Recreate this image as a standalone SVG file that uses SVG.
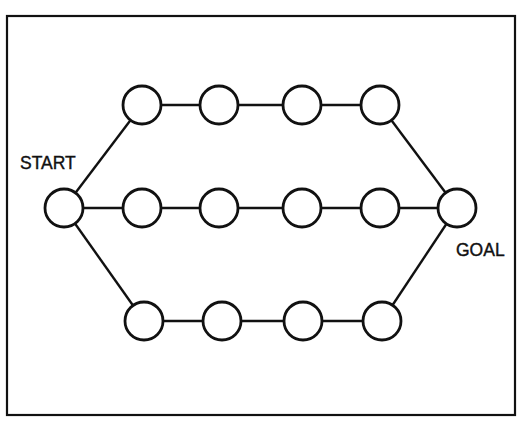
<svg xmlns="http://www.w3.org/2000/svg" width="527" height="426" viewBox="0 0 527 426">
<style>
.n{fill:#fff;stroke:#111;stroke-width:2.8}
.e{stroke:#111;stroke-width:2.4;fill:none}
.t{font-family:"Liberation Sans",Arial,sans-serif;font-size:17.5px;fill:#111;stroke:#111;stroke-width:0.4}
</style>
<rect width="527" height="426" fill="#fff"/>
<rect x="7" y="16" width="508" height="399" fill="none" stroke="#111" stroke-width="2.2"/>
<g id="connectors">
<line class="e" x1="64" y1="208" x2="142" y2="105"/>
<line class="e" x1="142" y1="105" x2="380" y2="105"/>
<line class="e" x1="380" y1="105" x2="457" y2="208"/>
<line class="e" x1="64" y1="208" x2="457" y2="208"/>
<line class="e" x1="64" y1="208" x2="144" y2="321"/>
<line class="e" x1="144" y1="321" x2="382" y2="321"/>
<line class="e" x1="382" y1="321" x2="457" y2="208"/>
</g>
<g id="start"><circle class="n" cx="64" cy="208" r="19"/><text class="t" x="20" y="169">START</text></g>
<g id="goal"><circle class="n" cx="457" cy="208" r="19"/><text class="t" x="456" y="256">GOAL</text></g>
<g id="t1"><circle class="n" cx="142" cy="105" r="19"/></g>
<g id="t2"><circle class="n" cx="219" cy="105" r="19"/></g>
<g id="t3"><circle class="n" cx="302" cy="105" r="19"/></g>
<g id="t4"><circle class="n" cx="380" cy="105" r="19"/></g>
<g id="m1"><circle class="n" cx="142" cy="208" r="19"/></g>
<g id="m2"><circle class="n" cx="219" cy="208" r="19"/></g>
<g id="m3"><circle class="n" cx="302" cy="208" r="19"/></g>
<g id="m4"><circle class="n" cx="380" cy="208" r="19"/></g>
<g id="b1"><circle class="n" cx="144" cy="321" r="19"/></g>
<g id="b2"><circle class="n" cx="222" cy="321" r="19"/></g>
<g id="b3"><circle class="n" cx="303" cy="321" r="19"/></g>
<g id="b4"><circle class="n" cx="382" cy="321" r="19"/></g>
</svg>
